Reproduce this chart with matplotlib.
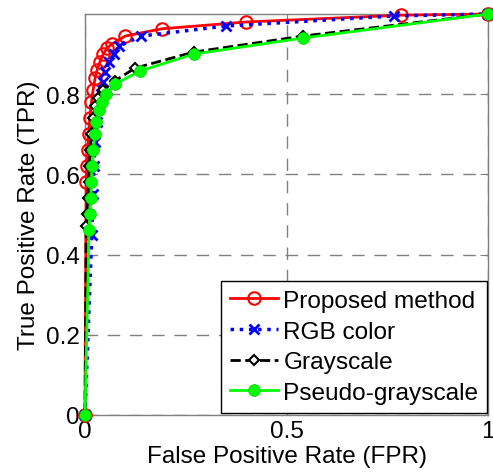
import matplotlib
matplotlib.use("Agg")
import matplotlib.pyplot as plt

plt.rcParams['font.family'] = ['Liberation Sans', 'DejaVu Sans']

# Curvas ROC
fpr_proposed = [0, 0.003, 0.005, 0.007, 0.009, 0.012, 0.016, 0.02, 0.025, 0.03, 0.037,
                0.045, 0.055, 0.067, 0.10, 0.19, 0.40, 0.784, 1.0]
tpr_proposed = [0, 0.58, 0.62, 0.66, 0.70, 0.74, 0.78, 0.81, 0.84, 0.86, 0.88,
                0.90, 0.915, 0.925, 0.945, 0.963, 0.98, 0.997, 1.0]

fpr_rgb = [0, 0.017, 0.02, 0.022, 0.025, 0.03, 0.035, 0.04, 0.045, 0.05, 0.06,
           0.072, 0.085, 0.14, 0.35, 0.767, 1.0]
tpr_rgb = [0, 0.45, 0.55, 0.62, 0.68, 0.73, 0.77, 0.80, 0.83, 0.855, 0.88,
           0.90, 0.92, 0.945, 0.97, 0.995, 1.0]

fpr_gray = [0, 0.003, 0.005, 0.007, 0.009, 0.011, 0.013, 0.016, 0.02, 0.025, 0.033,
            0.045, 0.074, 0.124, 0.27, 0.541, 1.0]
tpr_gray = [0, 0.47, 0.50, 0.54, 0.58, 0.62, 0.66, 0.70, 0.74, 0.77, 0.79,
            0.81, 0.833, 0.865, 0.905, 0.945, 1.0]

fpr_pseudo = [0, 0.01, 0.012, 0.014, 0.016, 0.018, 0.021, 0.024, 0.028, 0.034, 0.041,
              0.052, 0.074, 0.137, 0.27, 0.541, 1.0]
tpr_pseudo = [0, 0.46, 0.50, 0.54, 0.58, 0.62, 0.66, 0.70, 0.73, 0.76, 0.78,
              0.80, 0.825, 0.858, 0.90, 0.94, 1.0]

labels = ["Proposed method", "RGB color", "Grayscale", "Pseudo-grayscale"]
xticks = [0, 0.5, 1]
xticklabels = ["0", "0.5", "1"]
yticks = [0, 0.2, 0.4, 0.6, 0.8]
yticklabels = ["0", "0.2", "0.4", "0.6", "0.8"]

fig = plt.figure(figsize=(4.93, 4.77), dpi=100)
ax = fig.add_axes([0.1724, 0.128, 0.8176, 0.8406])

ax.plot(fpr_proposed, tpr_proposed, color='red', linestyle='-', linewidth=2,
        marker='o', markersize=9, markerfacecolor='none', markeredgewidth=1.5,
        label=labels[0], clip_on=False, zorder=3)
ax.plot(fpr_rgb, tpr_rgb, color='blue', linestyle=':', linewidth=2.5,
        marker='x', markersize=7, markeredgewidth=2,
        label=labels[1], clip_on=False, zorder=4)
ax.plot(fpr_gray, tpr_gray, color='black', linestyle='--', linewidth=2,
        marker='D', markersize=5, markerfacecolor='white', markeredgewidth=1.5,
        label=labels[2], clip_on=False, zorder=5)
ax.plot(fpr_pseudo, tpr_pseudo, color='#00ff00', linestyle='-', linewidth=2,
        marker='o', markersize=8.5, markerfacecolor='#00ff00', markeredgewidth=0.5,
        markeredgecolor='#00cc00',
        label=labels[3], clip_on=False, zorder=6)

ax.set_xlim(0, 1)
ax.set_ylim(0, 1)
ax.set_xticks(xticks)
ax.set_xticklabels(xticklabels)
ax.set_yticks(yticks)
ax.set_yticklabels(yticklabels)

ax.grid(True, color='#808080', linestyle=(0, (9, 7)), linewidth=1)
ax.set_axisbelow(True)
for sp in ax.spines.values():
    sp.set_color('#808080')
    sp.set_linewidth(1)
ax.tick_params(direction='in', length=6, color='#808080', labelsize=17.5,
               top=True, right=True, pad=4)

ax.set_xlabel("False Positive Rate (FPR)", fontsize=17.5, labelpad=2)
ax.set_ylabel("True Positive Rate (TPR)", fontsize=17.5, labelpad=4)

leg = ax.legend(loc='lower right', bbox_to_anchor=(0.997, 0.006), borderaxespad=0,
                fontsize=17.6, fancybox=False, framealpha=1, edgecolor='black',
                handlelength=2.0, handletextpad=0.2, labelspacing=0.35,
                borderpad=0.35)
leg.get_frame().set_linewidth(1)

fig.savefig("out.png", dpi=100)
